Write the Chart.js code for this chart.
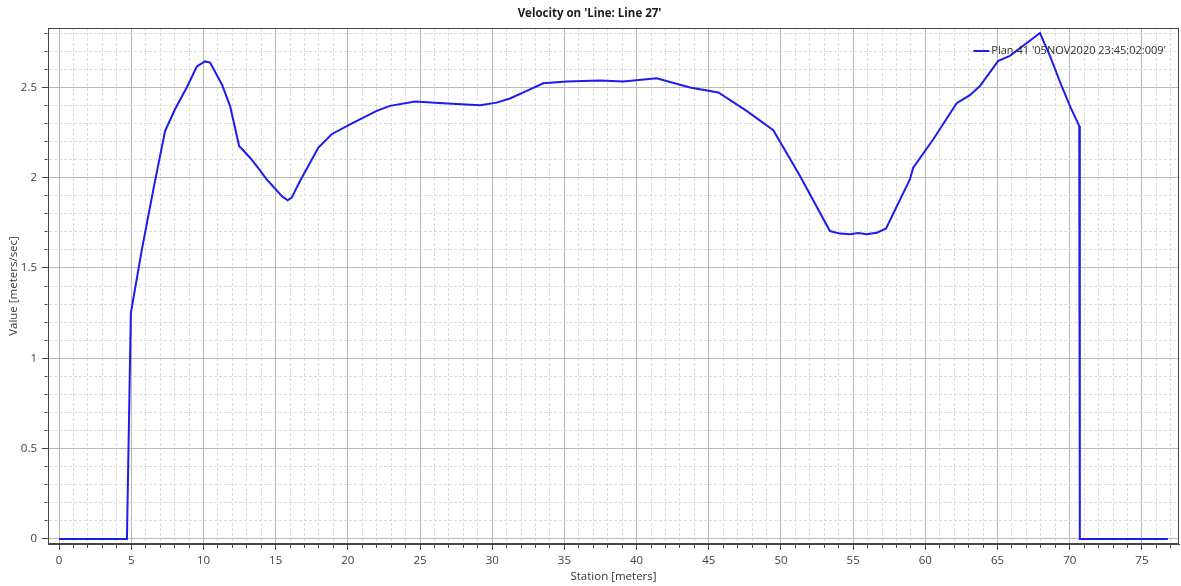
<!DOCTYPE html>
<html>
<head>
<meta charset="utf-8">
<title>Velocity on 'Line: Line 27'</title>
<script src="https://cdn.jsdelivr.net/npm/chart.js@4.4.1/dist/chart.umd.min.js"></script>
<style>
  html, body { margin: 0; padding: 0; background: #fff; }
  #wrap { width: 1181px; height: 586px; }
</style>
</head>
<body>
<div id="wrap"><canvas id="velocityChart"></canvas></div>
<script>
// station along the cross section line [m]
const station = [
  0, 4.7, 4.97, 5.73, 6.53, 7.34, 8.03, 8.84, 9.54, 10.11, 10.46,
  11.27, 11.84, 12.47, 13.23, 13.69, 14.38, 15.42, 15.83, 16.11, 16.69,
  17.96, 18.88, 20.15, 22.0, 22.92, 24.65, 26.61, 29.16, 30.31, 31.23,
  32.39, 33.54, 35.16, 37.47, 39.08, 41.39, 43.7, 45.66, 47.62, 49.47,
  51.32, 53.39, 54.09, 54.78, 55.35, 55.93, 56.63, 57.27, 58.93, 59.16,
  60.55, 62.17, 63.09, 63.78, 65.05, 65.86, 67.94, 68.63, 69.44, 70.01,
  70.66, 70.7, 76.8
];

// velocity [m/s]
const velocity = [
  0, 0, 1.25, 1.6, 1.935, 2.258, 2.378, 2.499, 2.615, 2.643, 2.637,
  2.517, 2.397, 2.175, 2.11, 2.064, 1.99, 1.898, 1.874, 1.889, 1.981,
  2.166, 2.24, 2.295, 2.369, 2.397, 2.421, 2.412, 2.40, 2.415, 2.438,
  2.48, 2.522, 2.532, 2.537, 2.532, 2.55, 2.499, 2.471, 2.369, 2.262,
  2.009, 1.704, 1.69, 1.686, 1.693, 1.686, 1.695, 1.717, 1.99, 2.055,
  2.212, 2.412, 2.456, 2.507, 2.646, 2.674, 2.80, 2.674, 2.507, 2.397,
  2.286, 0, 0
];

const planLabel = "Plan 41 '05NOV2020 23:45:02:009'";
const chartTitle = "Velocity on 'Line: Line 27'";

// minor step / labelled step for each axis
const xMinor = 1, xMajor = 5;
const yMinor = 0.1, yMajor = 0.5;

const FONT = "'Open Sans', 'Noto Sans', sans-serif";
const LINE_BLUE = '#1c1cf0';
const AXIS_DARK = '#454545';

Chart.defaults.font.family = FONT;
Chart.defaults.font.size = 11.5;
Chart.defaults.color = '#404040';

function onStep(value, step) {
  const r = value / step;
  return Math.abs(r - Math.round(r)) < 1e-6;
}

function gridColor(step) {
  return ctx => (ctx.tick && onStep(ctx.tick.value, step)) ? '#b9b9b9' : '#dcdcdc';
}
function gridDash(step) {
  return ctx => (ctx.tick && !onStep(ctx.tick.value, step)) ? [3, 2] : [];
}

// plot frame and the legend entry sitting inside the plot
const frameAndLegend = {
  id: 'frameAndLegend',
  afterDraw(chart) {
    const { ctx, chartArea: a } = chart;
    ctx.save();
    ctx.strokeStyle = AXIS_DARK;
    ctx.lineWidth = 1;
    ctx.strokeRect(a.left + 0.5, a.top + 0.5, a.right - a.left - 1, a.bottom - a.top - 1);

    const ds = chart.data.datasets[0];
    ctx.font = '11px ' + FONT;
    const w = ctx.measureText(ds.label).width;
    const tx = a.right - 13 - w;
    const ty = a.top + 23;
    ctx.strokeStyle = ds.borderColor;
    ctx.lineWidth = 2;
    ctx.beginPath();
    ctx.moveTo(tx - 18, ty);
    ctx.lineTo(tx - 2, ty);
    ctx.stroke();
    ctx.fillStyle = '#303030';
    ctx.textBaseline = 'middle';
    ctx.fillText(ds.label, tx, ty);
    ctx.restore();
  }
};

new Chart(document.getElementById('velocityChart'), {
  type: 'line',
  data: {
    datasets: [{
      label: planLabel,
      data: station.map((s, i) => ({ x: s, y: velocity[i] })),
      borderColor: LINE_BLUE,
      borderWidth: 2,
      pointRadius: 0,
      tension: 0,
      fill: false
    }]
  },
  options: {
    responsive: true,
    maintainAspectRatio: false,
    animation: false,
    layout: { padding: { right: 2 } },
    plugins: {
      legend: { display: false },
      tooltip: { enabled: false },
      title: {
        display: true,
        text: chartTitle,
        color: '#1a1a1a',
        font: { size: 11.5, weight: 'bold' },
        padding: { top: 7, bottom: 7.2 }
      }
    },
    scales: {
      x: {
        type: 'linear',
        min: -0.768,
        max: 77.57,
        afterFit(scale) { scale.height = 42; },
        ticks: {
          stepSize: xMinor,
          autoSkip: false,
          includeBounds: false,
          maxRotation: 0,
          padding: 4,
          callback: v => onStep(v, xMajor) ? String(Math.round(v)) : ''
        },
        grid: {
          color: gridColor(xMajor),
          tickLength: 6,
          tickColor: AXIS_DARK,
          tickBorderDash: ctx => (ctx.tick && !onStep(ctx.tick.value, xMajor)) ? [3, 20] : []
        },
        border: { display: true, color: AXIS_DARK, width: 1, dash: gridDash(xMajor) },
        title: {
          display: true,
          text: 'Station [meters]',
          color: '#333',
          font: { size: 11.5 },
          padding: { top: 0, bottom: 2 }
        }
      },
      y: {
        type: 'linear',
        min: -0.028,
        max: 2.828,
        afterFit(scale) { scale.width = 48; },
        ticks: {
          stepSize: yMinor,
          autoSkip: false,
          includeBounds: false,
          padding: 5,
          callback: v => onStep(v, yMajor) ? String(+v.toFixed(1)) : ''
        },
        grid: {
          color: gridColor(yMajor),
          tickLength: 6,
          tickColor: AXIS_DARK,
          tickBorderDash: ctx => (ctx.tick && !onStep(ctx.tick.value, yMajor)) ? [3, 20] : [],
          tickBorderDashOffset: ctx => (ctx.tick && !onStep(ctx.tick.value, yMajor)) ? 20.5 : 0
        },
        border: { display: true, color: AXIS_DARK, width: 1, dash: gridDash(yMajor) },
        title: {
          display: true,
          text: 'Value [meters/sec]',
          color: '#333',
          font: { size: 11.5 },
          padding: { top: 7, bottom: 0 }
        }
      }
    }
  },
  plugins: [frameAndLegend]
});
</script>
</body>
</html>
